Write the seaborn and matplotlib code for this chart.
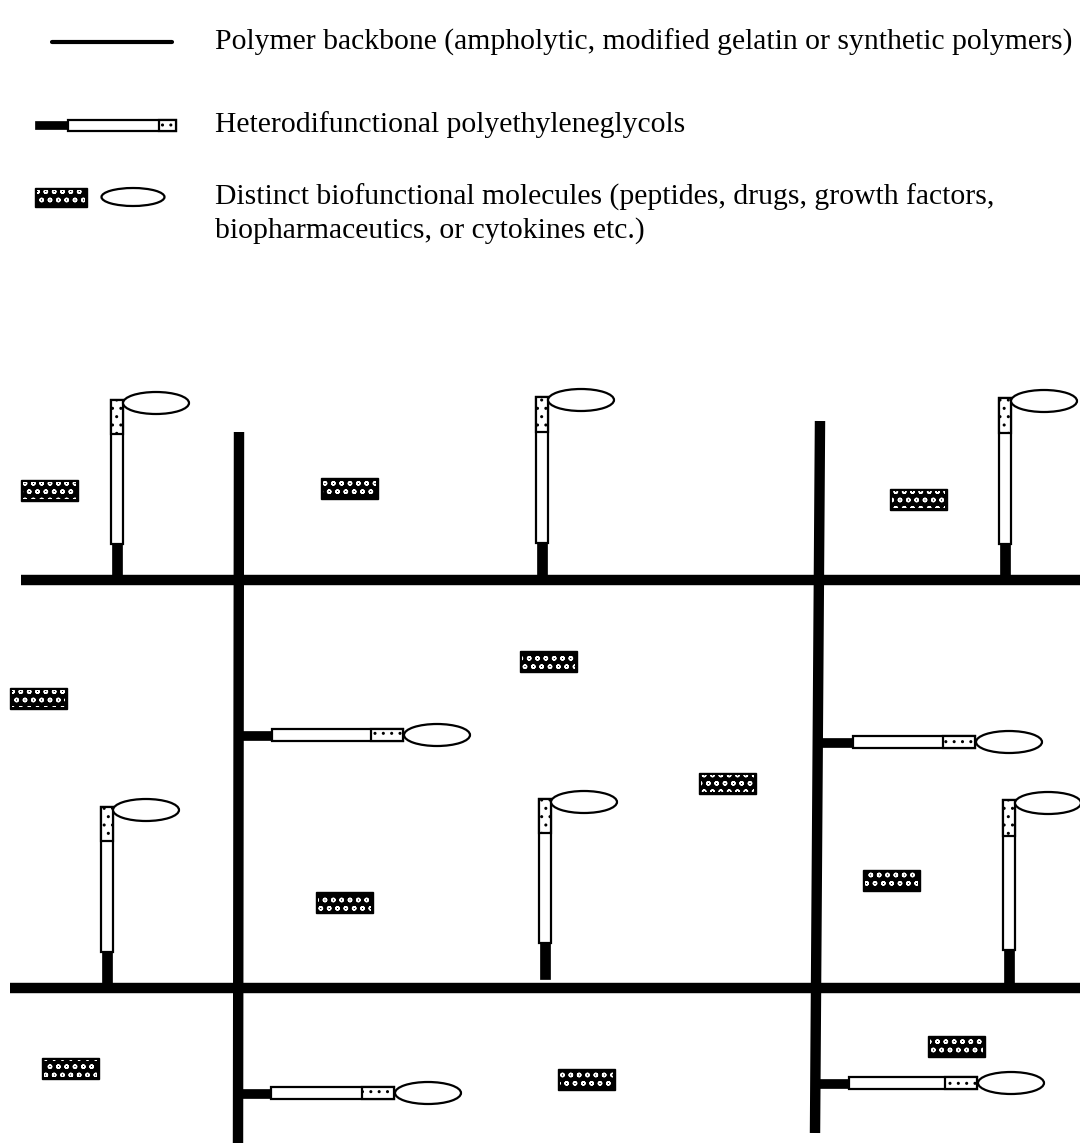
import matplotlib
matplotlib.use("Agg")
import matplotlib.pyplot as plt
import seaborn as sns
import pandas as pd
from matplotlib.patches import Rectangle, Ellipse

# backbone segments (pixel space of the original scheme)
backbone_id = ["h1", "h1", "h2", "h2", "v1", "v1", "v2", "v2"]
backbone_x = [21, 1080, 10, 1080, 239, 238, 820, 815]
backbone_y = [580, 580, 988, 988, 432, 1143, 421, 1133]

# PEG chains standing up from the horizontal backbones
peg_up_x = [117, 542, 1005, 107, 545, 1009]
peg_up_base = [580, 580, 580, 988, 979, 988]
peg_up_top = [400, 397, 398, 807, 799, 800]

# PEG chains pointing right from the vertical backbones
peg_right_y = [735, 742, 1093, 1083]
peg_right_x0 = [239, 820, 238, 816]
peg_right_x1 = [403, 975, 394, 977]

# free biofunctional molecules (hatched blocks), centres
block_x = [49, 349, 918, 548, 38, 727, 344, 891, 70, 586, 956]
block_y = [490, 488, 499, 661, 698, 783, 902, 880, 1068, 1079, 1046]

legend_text = [
    "Polymer backbone (ampholytic, modified gelatin or synthetic polymers)",
    "Heterodifunctional polyethyleneglycols",
    "Distinct biofunctional molecules (peptides, drugs, growth factors,",
    "biopharmaceutics, or cytokines etc.)",
]
legend_y = [42, 125, 197, 231]

sns.set_theme(style="white")
plt.rcParams["hatch.linewidth"] = 1.0
serif = ["Liberation Serif", "DejaVu Serif"]


def block(ax, cx, cy, w=57, h=21):
    ax.add_patch(Rectangle((cx - w / 2, cy - h / 2), w, h, facecolor="black",
                           edgecolor="black", lw=1, zorder=3))
    ax.add_patch(Rectangle((cx - w / 2 + 2, cy - h / 2 + 2), w - 4, h - 4,
                           facecolor="none", edgecolor="white", hatch="oo",
                           lw=0, zorder=4))


def bead(ax, cx, cy, w=66, h=22):
    ax.add_patch(Ellipse((cx, cy), w, h, facecolor="white", edgecolor="black",
                         lw=1.6, zorder=5))


def peg_up(ax, x, yb, yt, with_bead=True):
    L = yb - yt
    blk = 0.2 * L
    dot = 0.19 * L
    ax.add_patch(Rectangle((x - 5, yb - blk - 2), 10, blk + 2, facecolor="black",
                           edgecolor="black", lw=0.5, zorder=3))
    ax.add_patch(Rectangle((x - 6, yt), 12, L - blk, facecolor="white",
                           edgecolor="black", lw=1.6, zorder=4))
    ax.add_patch(Rectangle((x - 6, yt), 12, dot, facecolor="white",
                           edgecolor="black", hatch="..", lw=1.6, zorder=4))
    if with_bead:
        bead(ax, x + 6 + 33, yt + 3)


def peg_right(ax, x0, y, x1, dot_len=32, blk_len=33, with_bead=True, h=12):
    ax.add_patch(Rectangle((x0, y - h / 2 + 1.5), blk_len + 2, h - 3,
                           facecolor="black", edgecolor="black", lw=0.5, zorder=3))
    ax.add_patch(Rectangle((x0 + blk_len, y - h / 2), x1 - x0 - blk_len, h,
                           facecolor="white", edgecolor="black", lw=1.6, zorder=4))
    ax.add_patch(Rectangle((x1 - dot_len, y - h / 2), dot_len, h, facecolor="white",
                           edgecolor="black", hatch="..", lw=1.6, zorder=4))
    if with_bead:
        bead(ax, x1 + 34, y)


fig = plt.figure(figsize=(10.8, 11.47), dpi=100)
ax = fig.add_axes([0, 0, 1, 1])

bb = pd.DataFrame({"id": backbone_id, "x": backbone_x, "y": backbone_y})
sns.lineplot(data=bb, x="x", y="y", units="id", estimator=None, sort=False,
             color="black", lw=7.5, solid_capstyle="butt", legend=False, ax=ax)

for x, yb, yt in zip(peg_up_x, peg_up_base, peg_up_top):
    peg_up(ax, x, yb, yt)
for y, x0, x1 in zip(peg_right_y, peg_right_x0, peg_right_x1):
    peg_right(ax, x0, y, x1)
for cx, cy in zip(block_x, block_y):
    block(ax, cx, cy)

# legend symbols
ax.plot([52, 172], [42, 42], color="black", lw=3, solid_capstyle="round")
peg_right(ax, 35, 125, 176, dot_len=17, blk_len=33, with_bead=False, h=11)
block(ax, 61, 197, w=52, h=19)
bead(ax, 133, 197, w=63, h=18)
for t, y in zip(legend_text, legend_y):
    ax.text(215, y, t, fontsize=21.3, family=serif, va="center", ha="left",
            color="black")

ax.set_xlim(0, 1080)
ax.set_ylim(1147, 0)
ax.set_xlabel("")
ax.set_ylabel("")
ax.axis("off")
fig.savefig("out.png", dpi=100, facecolor="white")
